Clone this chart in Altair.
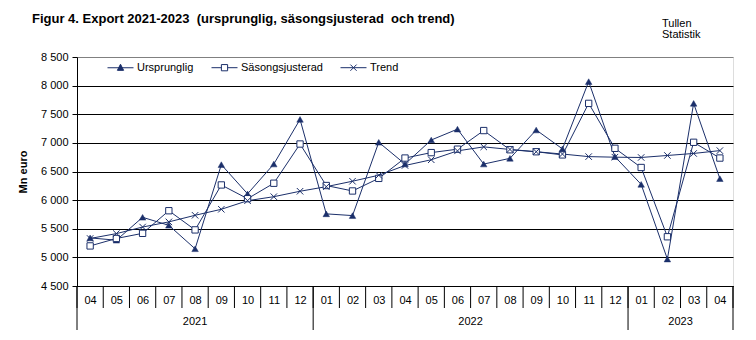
import json
import altair as alt
import pandas as pd

# ---------------- data ----------------
months = ["04", "05", "06", "07", "08", "09", "10", "11", "12",
          "01", "02", "03", "04", "05", "06", "07", "08", "09", "10", "11", "12",
          "01", "02", "03", "04"]
years = [2021] * 9 + [2022] * 12 + [2023] * 4

ursprunglig = [5340, 5300, 5700, 5560, 5150, 6620, 6110, 6630, 7410,
               5760, 5730, 7010, 6630, 7050, 7240, 6630, 6730, 7225, 6895, 8070, 6760,
               6275, 4970, 7690, 6375]
sasongsjusterad = [5200, 5330, 5420, 5815, 5480, 6265, 6025, 6295, 6980,
                   6255, 6160, 6380, 6735, 6830, 6890, 7215, 6880, 6845, 6790, 7690, 6905,
                   6570, 5360, 7010, 6735]
trend = [5330, 5415, 5530, 5620, 5735, 5840, 5990, 6060, 6155,
         6235, 6330, 6435, 6605, 6705, 6860, 6930, 6885, 6845, 6805, 6760, 6750,
         6745, 6780, 6815, 6865]

series_names = ["Ursprunglig", "Säsongsjusterad", "Trend"]
y_ticks = [4500, 5000, 5500, 6000, 6500, 7000, 7500, 8000, 8500]

title_text = "Figur 4. Export 2021-2023 \u00a0(ursprunglig, säsongsjusterad \u00a0och trend)"
source_text = "Tullen\nStatistik"

# ---------------- style ----------------
NAVY = "#1b2f6a"
FONT = "Liberation Sans"
W, H = 656, 229

n = len(months)
idx = list(range(n))

long = pd.DataFrame({
    "idx": idx * 3,
    "serie": [s for s in series_names for _ in idx],
    "value": ursprunglig + sasongsjusterad + trend,
})

x_scale = alt.Scale(domain=[-0.5, n - 0.5], nice=False, zero=False)
y_scale = alt.Scale(domain=[y_ticks[0], y_ticks[-1]], nice=False, zero=False)

x_enc = alt.X(
    "idx:Q", scale=x_scale,
    axis=alt.Axis(values=idx, labelExpr=f"{json.dumps(months)}[datum.value]",
                  ticks=False, grid=False, domainColor="black", domainWidth=1,
                  labelPadding=8, labelFontSize=11, labelColor="black",
                  labelFont=FONT, title=None, labelFlush=False, labelOverlap=False),
)
y_enc = alt.Y(
    "value:Q", scale=y_scale,
    axis=alt.Axis(values=y_ticks,
                  labelExpr="replace(format(datum.value, ','), ',', ' ')",
                  tickSize=5, tickColor="black", labelPadding=4,
                  labelFontSize=11, labelColor="black", labelFont=FONT,
                  domainColor="black", grid=True,
                  gridColor={"condition": {"test": "datum.value == 8500", "value": "#808080"},
                             "value": "black"},
                  gridWidth=1,
                  title="Mn euro", titleFontSize=11, titleFontWeight="bold",
                  titleFont=FONT, titleColor="black", titlePadding=12),
)

lines = alt.Chart(long).mark_line(color=NAVY, strokeWidth=1).encode(
    x=x_enc, y=y_enc, detail="serie:N")

tri = alt.Chart(long).transform_filter(alt.datum.serie == "Ursprunglig").mark_point(
    shape="triangle-up", filled=True, fill=NAVY, stroke=NAVY, strokeWidth=0.5,
    size=42, opacity=1).encode(x=x_enc, y=y_enc)

sq = alt.Chart(long).transform_filter(alt.datum.serie == "Säsongsjusterad").mark_point(
    shape="square", filled=True, fill="white", stroke=NAVY, strokeWidth=1,
    size=40, opacity=1).encode(x=x_enc, y=y_enc)

cr = alt.Chart(long).transform_filter(alt.datum.serie == "Trend").mark_point(
    shape="M-1,-1L1,1M1,-1L-1,1", stroke=NAVY, strokeWidth=1,
    size=42, opacity=1).encode(x=x_enc, y=y_enc)

# legend (built from an empty layer using the library's legend)
leg_paths = [
    "M-1,0L1,0M0,-0.27L0.24,0.2L-0.24,0.2Z",
    "M-1,0L-0.24,0M0.24,0L1,0M-0.24,-0.24L0.24,-0.24L0.24,0.24L-0.24,0.24Z",
    "M-1,0L1,0M-0.24,-0.24L0.24,0.24M0.24,-0.24L-0.24,0.24",
]
leg_kw = dict(orient="none", legendX=30, legendY=-3, direction="horizontal",
              title=None, symbolSize=676, labelFontSize=11, labelFont=FONT,
              labelColor="black", labelOffset=3, columnPadding=15,
              symbolStrokeWidth=1, padding=0)
legend_layer = alt.Chart(long).transform_filter("false").mark_point(
    stroke=NAVY, strokeWidth=1, opacity=1, filled=True).encode(
    x=x_enc, y=y_enc,
    shape=alt.Shape("serie:N", scale=alt.Scale(domain=series_names, range=leg_paths),
                    legend=alt.Legend(**leg_kw)),
    fill=alt.Fill("serie:N", scale=alt.Scale(domain=series_names,
                                             range=[NAVY, "white", "transparent"]),
                  legend=alt.Legend(**leg_kw)),
)

# category separators (derived from the month / year arrays)
sep_df = pd.DataFrame({"idx": [k - 0.5 for k in range(n + 1)]})
year_bounds = [-0.5] + [i - 0.5 for i in range(1, n) if years[i] != years[i - 1]] + [n - 0.5]
ysep_df = pd.DataFrame({"idx": year_bounds})

month_sep = alt.Chart(sep_df).mark_rule(color="black", strokeWidth=1).encode(
    x=x_enc, y=alt.value(H), y2=alt.value(H + 22))
year_sep = alt.Chart(ysep_df).mark_rule(color="black", strokeWidth=1).encode(
    x=x_enc, y=alt.value(H), y2=alt.value(H + 44))

ydf = pd.DataFrame({"idx": idx, "year": years}).groupby("year", as_index=False)["idx"].mean()
ydf["year"] = ydf["year"].astype(str)
year_labels = alt.Chart(ydf).mark_text(
    fontSize=11, font=FONT, color="black", baseline="middle", align="center").encode(
    x=x_enc, y=alt.value(H + 36), text="year:N")

source = alt.Chart(pd.DataFrame({"t": [source_text]})).mark_text(
    fontSize=11, font=FONT, color="black", align="left", baseline="alphabetic",
    lineBreak="\n", lineHeight=11).encode(
    text="t:N", x=alt.value(585), y=alt.value(-30))

title = alt.Chart(pd.DataFrame({"t": [title_text]})).mark_text(
    fontSize=13, font=FONT, fontWeight="bold", color="black", align="left",
    baseline="alphabetic").encode(
    text="t:N", x=alt.value(-45), y=alt.value(-34))

chart = alt.layer(
    lines, tri, sq, cr, legend_layer, month_sep, year_sep, year_labels, source, title
).properties(
    width=W, height=H,
    autosize=alt.AutoSizeParams(type="none"),
    padding={"left": 77, "top": 57, "right": 23, "bottom": 54},
).configure_view(
    stroke="#808080", strokeWidth=1
).configure(background="white")

chart.save("out.html", embed_options={"renderer": "svg", "actions": False})
